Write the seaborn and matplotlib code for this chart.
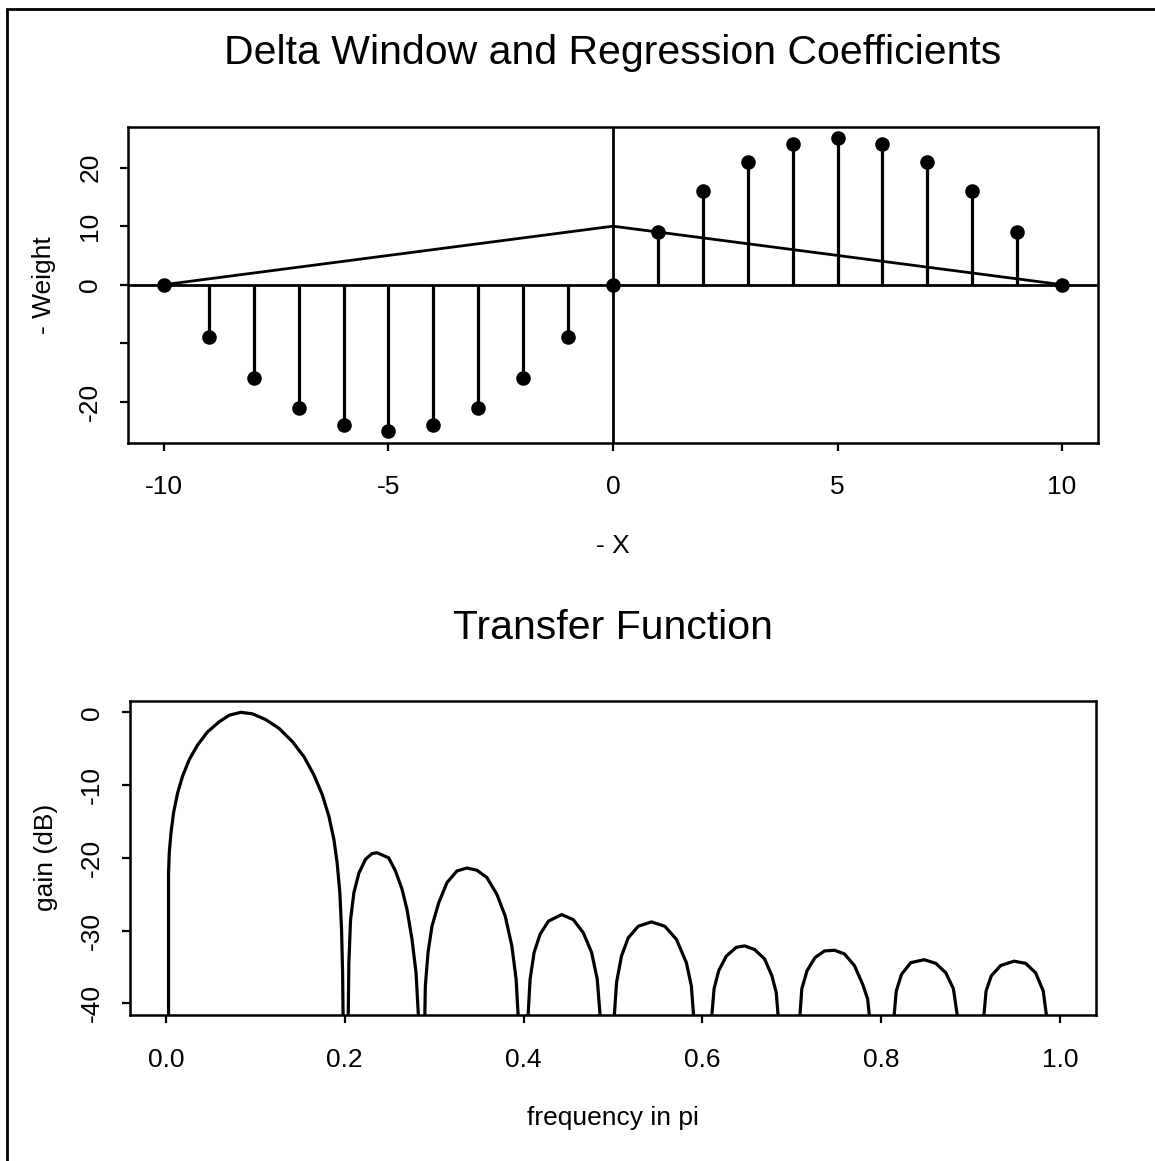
import numpy as np
import pandas as pd
import matplotlib
matplotlib.use("Agg")
import matplotlib.pyplot as plt
from matplotlib.patches import Rectangle
import seaborn as sns

# ---------------- data ----------------
lag = [-10, -9, -8, -7, -6, -5, -4, -3, -2, -1, 0, 1, 2, 3, 4, 5, 6, 7, 8, 9, 10]
weight = [0, -9, -16, -21, -24, -25, -24, -21, -16, -9, 0, 9, 16, 21, 24, 25, 24, 21, 16, 9, 0]
window_x = [-10, 0, 10]
window_y = [0, 10, 0]

# transfer function (lobes; -42.5 marks where a lobe leaves the plot bottom)
freq = [0.0031, 0.0031, 0.0039, 0.0058, 0.0087, 0.0132, 0.0187, 0.0262, 0.0355, 0.0466, 0.0597, 0.0708,
        0.0839, 0.0968, 0.1118, 0.1266, 0.1414, 0.1545, 0.1656, 0.1749, 0.1824, 0.188, 0.1916, 0.1946,
        0.1965, 0.1977, 0.1983,
        0.2039, 0.2047, 0.2066, 0.2103, 0.2159, 0.2233, 0.2307, 0.2363, 0.2492, 0.2568, 0.2641, 0.2697,
        0.2753, 0.2798, 0.2828,
        0.2895, 0.2902, 0.2932, 0.2976, 0.3051, 0.3144, 0.3255, 0.3367, 0.3478, 0.359, 0.3701, 0.3795,
        0.3869, 0.3917, 0.3943,
        0.4047, 0.4073, 0.4118, 0.4185, 0.4278, 0.4426, 0.4557, 0.4668, 0.4761, 0.4824, 0.4861,
        0.501, 0.504, 0.5095, 0.517, 0.5282, 0.543, 0.5579, 0.5709, 0.582, 0.5876, 0.5906,
        0.6099, 0.613, 0.6182, 0.6267, 0.6378, 0.6472, 0.6583, 0.6695, 0.6776, 0.6825, 0.6851,
        0.7085, 0.7111, 0.717, 0.7259, 0.7364, 0.7476, 0.7587, 0.7699, 0.7792, 0.7847, 0.7873,
        0.8137, 0.8167, 0.8226, 0.833, 0.8479, 0.8609, 0.8721, 0.8806, 0.8859,
        0.9141, 0.9171, 0.923, 0.9334, 0.9484, 0.9613, 0.9725, 0.981, 0.9855]
gain = [-42.5, -22.1, -19.3, -16.6, -13.8, -11.1, -8.8, -6.5, -4.5, -2.7, -1.3, -0.4,
        0.0, -0.2, -1.0, -2.2, -4.0, -6.1, -8.6, -11.3, -14.3, -17.5, -20.7, -24.8,
        -29.8, -35.8, -42.5,
        -42.5, -34.4, -28.5, -24.8, -22.1, -20.2, -19.4, -19.3, -20.0, -21.8, -24.3, -27.1,
        -31.2, -35.8, -42.5,
        -42.5, -37.6, -33.0, -29.4, -26.2, -23.4, -21.8, -21.4, -21.7, -22.7, -25.0, -28.0,
        -32.1, -36.7, -42.5,
        -42.5, -36.7, -33.0, -30.5, -28.7, -27.8, -28.5, -30.3, -33.0, -36.7, -42.5,
        -42.5, -37.1, -33.5, -31.0, -29.4, -28.8, -29.4, -31.2, -34.4, -37.6, -42.5,
        -42.5, -38.0, -35.5, -33.5, -32.3, -32.1, -32.6, -33.9, -36.2, -38.5, -42.5,
        -42.5, -38.0, -35.5, -33.7, -32.8, -32.7, -33.2, -34.8, -37.4, -39.4, -42.5,
        -42.5, -38.3, -36.0, -34.4, -34.0, -34.5, -35.8, -38.0, -42.5,
        -42.5, -38.3, -36.2, -34.8, -34.2, -34.5, -35.8, -38.3, -42.5]

top_xticks = [-10, -5, 0, 5, 10]
top_yticks = [-20, -10, 0, 10, 20]
top_yticklabels = ["-20", "", "0", "10", "20"]
bot_xticks = [0.0, 0.2, 0.4, 0.6, 0.8, 1.0]
bot_xticklabels = ["0.0", "0.2", "0.4", "0.6", "0.8", "1.0"]
bot_yticks = [-40, -30, -20, -10, 0]

# ---------------- style ----------------
sns.set_theme(style="ticks")
plt.rcParams['font.family'] = ['Liberation Sans', 'DejaVu Sans']
plt.rcParams['text.color'] = 'black'
plt.rcParams['axes.labelcolor'] = 'black'
plt.rcParams['axes.linewidth'] = 1.8
plt.rcParams['xtick.major.width'] = 1.6
plt.rcParams['ytick.major.width'] = 1.6
plt.rcParams['xtick.major.size'] = 5.5
plt.rcParams['ytick.major.size'] = 5.5
plt.rcParams['xtick.color'] = 'black'
plt.rcParams['ytick.color'] = 'black'
plt.rcParams['xtick.labelcolor'] = 'black'
plt.rcParams['ytick.labelcolor'] = 'black'
plt.rcParams['axes.edgecolor'] = 'black'

W, H = 1155, 1161
fig = plt.figure(figsize=(W / 100, H / 100), dpi=100)
fig.patch.set_facecolor('white')

ax1 = fig.add_axes([128 / W, 1 - 442.7 / H, (1098 - 128) / W, (442.7 - 126.7) / H])
ax2 = fig.add_axes([130 / W, 1 - 1015 / H, (1096 - 130) / W, (1015 - 700.7) / H])

# ---------------- top panel ----------------
df_w = pd.DataFrame({"lag": lag, "weight": weight})
ax1.vlines(df_w["lag"], 0, df_w["weight"], color='black', lw=2.3, zorder=3)
sns.scatterplot(data=df_w, x="lag", y="weight", ax=ax1, color='black', s=110,
                edgecolor='black', linewidth=0, zorder=4, legend=False)
df_win = pd.DataFrame({"x": window_x, "y": window_y})
sns.lineplot(data=df_win, x="x", y="y", ax=ax1, color='black', lw=2.0,
             sort=False, estimator=None, zorder=3)
ax1.axhline(0, color='black', lw=2.0, zorder=2)
ax1.axvline(0, color='black', lw=2.0, zorder=2)
ax1.set_xlim(-10.8, 10.8)
ax1.set_ylim(-27, 27)
ax1.set_xticks(top_xticks)
ax1.set_xticklabels([str(t) for t in top_xticks])
ax1.set_yticks(top_yticks)
ax1.set_yticklabels(top_yticklabels, rotation=90, va='center')
ax1.set_xlabel("- X", fontsize=19, labelpad=25)
ax1.set_ylabel("- Weight", fontsize=19, labelpad=16)
ax1.tick_params(axis='x', labelsize=19, pad=18)
ax1.tick_params(axis='y', labelsize=19, pad=13)

# ---------------- bottom panel ----------------
df_tf = pd.DataFrame({"freq": freq, "gain": gain})
sns.lineplot(data=df_tf, x="freq", y="gain", ax=ax2, color='black', lw=2.3,
             sort=False, estimator=None)
ax2.set_xlim(-0.04, 1.04)
ax2.set_ylim(-41.6, 1.6)
ax2.set_xticks(bot_xticks)
ax2.set_xticklabels(bot_xticklabels)
ax2.set_yticks(bot_yticks)
ax2.set_yticklabels([str(t) for t in bot_yticks], rotation=90, va='center')
ax2.set_xlabel("frequency in pi", fontsize=19, labelpad=25)
ax2.set_ylabel("gain (dB)", fontsize=19, labelpad=16)
ax2.tick_params(axis='x', labelsize=19, pad=18)
ax2.tick_params(axis='y', labelsize=19, pad=13)

for ax in (ax1, ax2):
    for s in ax.spines.values():
        s.set_visible(True)
        s.set_color('black')

# ---------------- titles ----------------
fig.text(613 / W, 1 - 53 / H, "Delta Window and Regression Coefficients",
         ha='center', va='center', fontsize=29.5, color='black')
fig.text(613 / W, 1 - 628 / H, "Transfer Function",
         ha='center', va='center', fontsize=29.5, color='black')

# figure frame (scan border on left and top)
fig.add_artist(Rectangle((6.7 / W, -0.05), 1.2, 1 - 8.5 / H + 0.05,
                         transform=fig.transFigure, fill=False,
                         edgecolor='black', lw=2.0))

fig.savefig("out.png", dpi=100, facecolor='white')
